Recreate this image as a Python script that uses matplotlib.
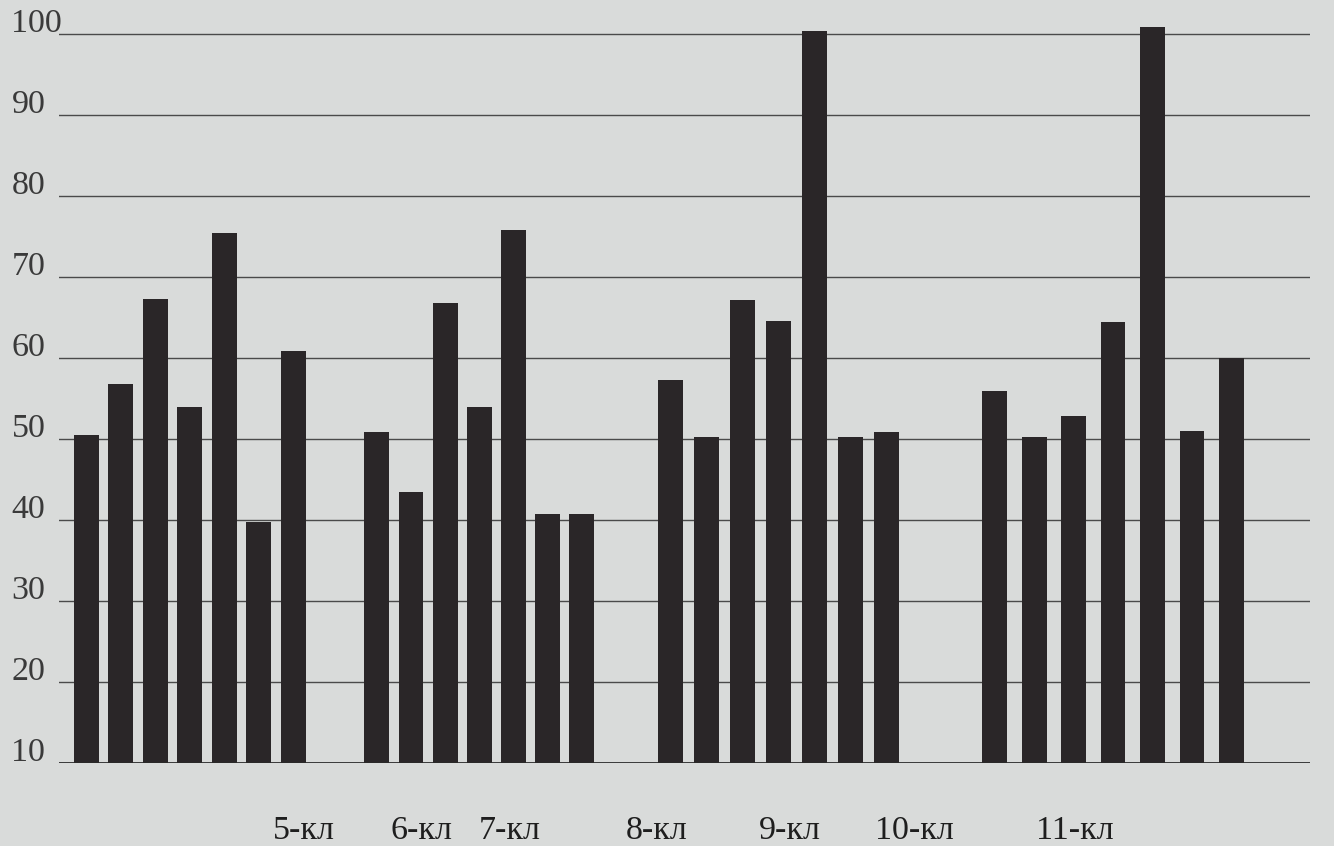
import numpy as np
import matplotlib.pyplot as plt
from matplotlib.transforms import ScaledTranslation

# values, 4 groups x 7 bars
group1 = [50.5, 56.8, 67.3, 53.9, 75.4, 39.8, 60.9]
group2 = [50.8, 43.4, 66.8, 54.0, 75.8, 40.8, 40.7]
group3 = [57.3, 50.2, 67.2, 64.5, 100.3, 50.2, 50.9]
group4 = [55.9, 50.2, 52.8, 64.4, 100.8, 51.0, 60.0]
groups = [group1, group2, group3, group4]

# hand drawn original: groups are not evenly spaced
group_centers = [3.69, 11.83, 20.25, 29.66]
group_steps = [0.97, 0.96, 1.01, 1.11]

y_ticks = [10, 20, 30, 40, 50, 60, 70, 80, 90, 100]

class_labels = ["5-кл", "6-кл", "7-кл", "8-кл", "9-кл", "10-кл", "11-кл"]
class_label_pos = [6.9, 10.2, 12.68, 16.82, 20.56, 24.08, 28.59]

bg = "#d9dbda"
bar_color = "#2a2628"
base = 10

fig = plt.figure(figsize=(13.34, 8.46), dpi=100, facecolor=bg)
ax = fig.add_axes([0.044, 0.098, 0.938, 0.886])
ax.set_facecolor(bg)

for center, step, values in zip(group_centers, group_steps, groups):
    x = center + step * (np.arange(len(values)) - (len(values) - 1) / 2)
    ax.bar(x, np.array(values) - base, bottom=base, width=0.7,
           color=bar_color, zorder=3)

for t in y_ticks[1:]:
    ax.axhline(t, color="#4a4a4a", linewidth=1.0, zorder=1)
ax.axhline(base, color="#2a2a2a", linewidth=2.0, zorder=4)

ax.set_xlim(0, 35.2)
ax.set_ylim(base, 102.5)

for side in ["top", "right", "left", "bottom"]:
    ax.spines[side].set_visible(False)

ax.set_yticks(y_ticks)
ax.set_yticklabels([str(t) for t in y_ticks], family="Liberation Serif",
                   fontsize=24.5, color="#3a3a3a")
ax.tick_params(axis="y", length=0, pad=34)
shift = ScaledTranslation(0, 0.14, fig.dpi_scale_trans)
for lab in ax.get_yticklabels():
    lab.set_horizontalalignment("left")
    lab.set_transform(lab.get_transform() + shift)

ax.set_xticks(class_label_pos)
ax.set_xticklabels(class_labels, family="Liberation Serif", fontsize=24.5,
                   color="#1e1e1e")
ax.tick_params(axis="x", length=0, pad=38)

fig.savefig("out.png", dpi=100, facecolor=bg)
